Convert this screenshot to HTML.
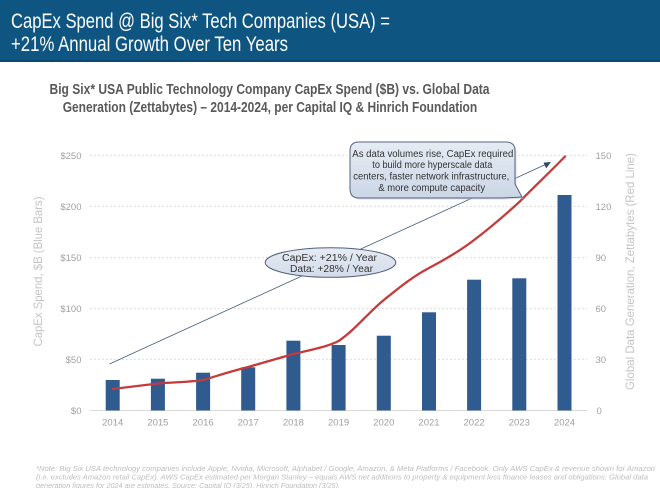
<!DOCTYPE html>
<html>
<head>
<meta charset="utf-8">
<style>
  html,body{margin:0;padding:0;background:#fff;}
  svg{display:block;}
  text{font-family:"Liberation Sans", Arial, sans-serif;}
</style>
</head>
<body>
<svg width="660" height="488" viewBox="0 0 660 488" xmlns="http://www.w3.org/2000/svg">
  <defs>
    <linearGradient id="boxg" x1="0" y1="0" x2="0" y2="1">
      <stop offset="0" stop-color="#e6ecf4"/>
      <stop offset="1" stop-color="#cbd6e6"/>
    </linearGradient>
    <linearGradient id="ellg" x1="0" y1="0" x2="0" y2="1">
      <stop offset="0" stop-color="#e6ebf3"/>
      <stop offset="1" stop-color="#d3dcea"/>
    </linearGradient>
  </defs>
  <rect x="0" y="0" width="660" height="488" fill="#ffffff"/>

  <!-- Header -->
  <rect x="0" y="0" width="660" height="62" fill="#0e5581"/>
  <rect x="0" y="60" width="660" height="2" fill="#0a4870"/>
  <text x="11" y="28" font-size="21" fill="#ffffff" textLength="379" lengthAdjust="spacingAndGlyphs">CapEx Spend @ Big Six* Tech Companies (USA) =</text>
  <text x="11" y="51" font-size="21" fill="#ffffff" textLength="277" lengthAdjust="spacingAndGlyphs">+21% Annual Growth Over Ten Years</text>

  <!-- Subtitle -->
  <text x="49.5" y="94" font-size="14.5" font-weight="bold" fill="#595959" textLength="440" lengthAdjust="spacingAndGlyphs">Big Six* USA Public Technology Company CapEx Spend ($B) vs. Global Data</text>
  <text x="62.7" y="112" font-size="14.5" font-weight="bold" fill="#595959" textLength="414.5" lengthAdjust="spacingAndGlyphs">Generation (Zettabytes) – 2014-2024, per Capital IQ &amp; Hinrich Foundation</text>

  <!-- Gridlines -->
  <g stroke="#d6d6d6" stroke-width="1" stroke-dasharray="1.5,2.5">
    <line x1="90" y1="155.5" x2="587" y2="155.5"/>
    <line x1="90" y1="206.5" x2="587" y2="206.5"/>
    <line x1="90" y1="257.5" x2="587" y2="257.5"/>
    <line x1="90" y1="308.5" x2="587" y2="308.5"/>
    <line x1="90" y1="359.5" x2="587" y2="359.5"/>
  </g>
  <line x1="90" y1="410.5" x2="587" y2="410.5" stroke="#dadada" stroke-width="1"/>

  <!-- Left axis labels -->
  <g font-size="9.5" fill="#a0a0a0" text-anchor="end">
    <text x="81.5" y="159">$250</text>
    <text x="81.5" y="210">$200</text>
    <text x="81.5" y="261">$150</text>
    <text x="81.5" y="312">$100</text>
    <text x="81.5" y="363">$50</text>
    <text x="81.5" y="414">$0</text>
  </g>
  <!-- Right axis labels -->
  <g font-size="9.5" fill="#a0a0a0" text-anchor="start">
    <text x="595.5" y="159">150</text>
    <text x="595.5" y="210">120</text>
    <text x="595.5" y="261">90</text>
    <text x="595.5" y="312">60</text>
    <text x="595.5" y="363">30</text>
    <text x="596.5" y="414">0</text>
  </g>
  <!-- Year labels -->
  <g font-size="9.5" fill="#a0a0a0" text-anchor="middle">
    <text x="112.7" y="425.5">2014</text>
    <text x="157.9" y="425.5">2015</text>
    <text x="203.1" y="425.5">2016</text>
    <text x="248.2" y="425.5">2017</text>
    <text x="293.4" y="425.5">2018</text>
    <text x="338.6" y="425.5">2019</text>
    <text x="383.8" y="425.5">2020</text>
    <text x="429.0" y="425.5">2021</text>
    <text x="474.1" y="425.5">2022</text>
    <text x="519.3" y="425.5">2023</text>
    <text x="564.5" y="425.5">2024</text>
  </g>

  <!-- Axis titles -->
  <text transform="translate(42,271.5) rotate(-90)" font-size="12" fill="#c4c4c4" text-anchor="middle" textLength="150" lengthAdjust="spacingAndGlyphs">CapEx Spend, $B (Blue Bars)</text>
  <text transform="translate(634,271.5) rotate(-90)" font-size="12" fill="#c4c4c4" text-anchor="middle" textLength="237" lengthAdjust="spacingAndGlyphs">Global Data Generation, Zettabytes (Red Line)</text>

  <!-- Bars -->
  <g fill="#2f5b8e">
    <rect x="105.7" y="380" width="14" height="30.5"/>
    <rect x="150.9" y="378.7" width="14" height="31.8"/>
    <rect x="196.1" y="372.7" width="14" height="37.8"/>
    <rect x="241.2" y="367.3" width="14" height="43.2"/>
    <rect x="286.4" y="340.7" width="14" height="69.8"/>
    <rect x="331.6" y="345" width="14" height="65.5"/>
    <rect x="376.8" y="335.7" width="14" height="74.8"/>
    <rect x="422.0" y="312.3" width="14" height="98.2"/>
    <rect x="467.1" y="279.7" width="14" height="130.8"/>
    <rect x="512.3" y="278.3" width="14" height="132.2"/>
    <rect x="557.5" y="195" width="14" height="215.5"/>
  </g>

  <!-- Red line -->
  <path d="M112.7,389 C130,387 145,385 157.9,383.5 C175,382 192,382 203.1,380 C220,375 232,371 248.2,367 C265,362 280,358 293.4,354 C310,350 327,347 338.6,341 C355,330 368,313 383.8,300 C400,287 412,277 429,268 C446,259 460,251 474.1,240 C490,228 505,215 519.3,202 C535,186 550,172 565,156.5" fill="none" stroke="#c43b3b" stroke-width="2.3" stroke-linecap="round" stroke-linejoin="round"/>

  <!-- Arrow line -->
  <line x1="109.5" y1="364" x2="546" y2="164.3" stroke="#44597a" stroke-width="0.8"/>
  <polygon points="551,162 543.5,162.6 546.2,168.4" fill="#2f4666"/>

  <!-- Ellipse callout -->
  <ellipse cx="330.5" cy="262.5" rx="65.3" ry="14.8" fill="url(#ellg)" stroke="#4f5f7a" stroke-width="1"/>
  <text x="329.5" y="261" font-size="10" fill="#333" text-anchor="middle" textLength="95" lengthAdjust="spacingAndGlyphs">CapEx: +21% / Year</text>
  <text x="331.5" y="272" font-size="10" fill="#333" text-anchor="middle" textLength="83" lengthAdjust="spacingAndGlyphs">Data: +28% / Year</text>

  <!-- Rounded box callout -->
  <path d="M359,142 H506 Q515,142 515,151 V184 L522,197 L503,198 H359 Q350,198 350,189 V151 Q350,142 359,142 Z" fill="#c0c8d4" transform="translate(1.5,1.5)" opacity="0.6"/>
  <path d="M359,142 H506 Q515,142 515,151 V184 L522,197 L503,198 H359 Q350,198 350,189 V151 Q350,142 359,142 Z" fill="url(#boxg)" stroke="#56657d" stroke-width="1"/>
  <g font-size="10" fill="#333" text-anchor="middle">
    <text x="432.8" y="157" textLength="161" lengthAdjust="spacingAndGlyphs">As data volumes rise, CapEx required</text>
    <text x="432.3" y="168" textLength="120" lengthAdjust="spacingAndGlyphs">to build more hyperscale data</text>
    <text x="431.3" y="179.5" textLength="156" lengthAdjust="spacingAndGlyphs">centers, faster network infrastructure,</text>
    <text x="431.7" y="191" textLength="106.7" lengthAdjust="spacingAndGlyphs">&amp; more compute capacity</text>
  </g>

  <!-- Footer note -->
  <g font-size="7.2" font-style="italic" fill="#bdbdbd">
    <text x="36" y="471" textLength="619" lengthAdjust="spacingAndGlyphs">*Note: Big Six USA technology companies include Apple, Nvidia, Microsoft, Alphabet / Google, Amazon, &amp; Meta Platforms / Facebook. Only AWS CapEx &amp; revenue shown for Amazon</text>
    <text x="36" y="479.5" textLength="612" lengthAdjust="spacingAndGlyphs">(i.e. excludes Amazon retail CapEx). AWS CapEx estimated per Morgan Stanley – equals AWS net additions to property &amp; equipment less finance leases and obligations. Global data</text>
    <text x="36" y="488" textLength="304" lengthAdjust="spacingAndGlyphs">generation figures for 2024 are estimates. Source: Capital IQ (3/25), Hinrich Foundation (3/25).</text>
  </g>
</svg>
</body>
</html>
